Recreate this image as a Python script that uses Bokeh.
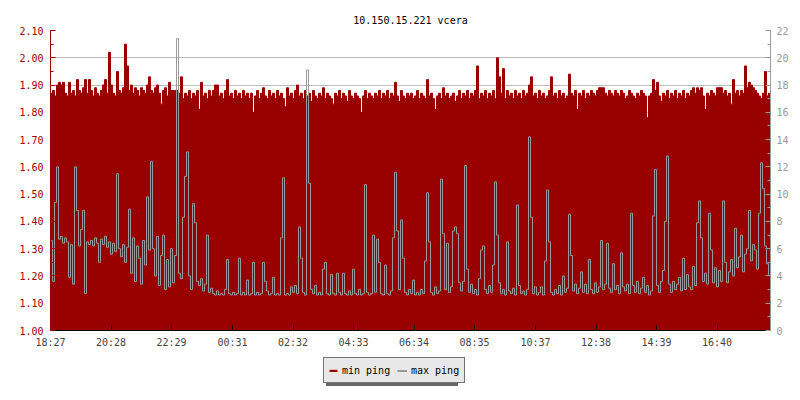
import numpy as np
from bokeh.plotting import figure
from bokeh.layouts import column
from bokeh.models import (Range1d, LinearAxis, SingleIntervalTicker, FixedTicker,
                          PrintfTickFormatter, Legend, LegendItem, ColumnDataSource)
from bokeh.embed import file_html
from bokeh.resources import INLINE

title_text = "10.150.15.221 vcera"
tick_minutes = [0, 121, 242, 364, 485, 606, 727, 848, 970, 1091, 1212, 1333]
tick_labels = ["18:27", "20:28", "22:29", "00:31", "02:32", "04:33",
               "06:34", "08:35", "10:37", "12:38", "14:39", "16:40"]
sample_minutes = 4
series_names = ["min ping", "max ping"]

# min ping (left axis, ms) - one value per 4-minute sample
min_ping = [
    1.87, 1.88, 1.86, 1.90, 1.91, 1.90, 1.91, 1.87, 1.86, 1.91, 1.87, 1.88, 1.86, 1.92, 1.88, 1.87, 1.89, 1.92, 1.87, 1.92,
    1.88, 1.86, 1.89, 1.87, 1.86, 1.88, 1.90, 1.92, 1.87, 2.02, 1.90, 1.87, 1.86, 1.95, 1.88, 1.87, 1.89, 2.05, 1.97, 1.88,
    1.90, 1.87, 1.89, 1.88, 1.86, 1.89, 1.88, 1.87, 1.90, 1.93, 1.88, 1.87, 1.89, 1.90, 1.87, 1.83, 1.88, 1.89, 1.86, 1.91,
    1.88, 1.88, 1.88, 1.88, 1.87, 1.93, 1.85, 1.87, 1.86, 1.88, 1.85, 1.87, 1.86, 1.88, 1.81, 1.91, 1.86, 1.87, 1.85, 1.88,
    1.86, 1.88, 1.90, 1.90, 1.86, 1.87, 1.85, 1.88, 1.92, 1.86, 1.87, 1.85, 1.88, 1.86, 1.87, 1.85, 1.88, 1.86, 1.87, 1.85,
    1.87, 1.80, 1.86, 1.88, 1.85, 1.87, 1.89, 1.86, 1.85, 1.88, 1.86, 1.87, 1.85, 1.88, 1.86, 1.87, 1.85, 1.82, 1.89, 1.86,
    1.87, 1.85, 1.88, 1.90, 1.86, 1.87, 1.85, 1.88, 1.86, 1.87, 1.84, 1.88, 1.86, 1.85, 1.87, 1.86, 1.89, 1.85, 1.87, 1.86,
    1.85, 1.83, 1.87, 1.86, 1.88, 1.85, 1.87, 1.86, 1.84, 1.88, 1.86, 1.85, 1.87, 1.86, 1.85, 1.80, 1.86, 1.88, 1.85, 1.87,
    1.86, 1.85, 1.87, 1.86, 1.88, 1.85, 1.87, 1.86, 1.88, 1.85, 1.87, 1.86, 1.91, 1.86, 1.84, 1.88, 1.86, 1.85, 1.87, 1.86,
    1.87, 1.85, 1.86, 1.88, 1.85, 1.87, 1.86, 1.85, 1.92, 1.86, 1.87, 1.85, 1.81, 1.86, 1.87, 1.85, 1.89, 1.86, 1.87, 1.85,
    1.86, 1.87, 1.84, 1.86, 1.88, 1.85, 1.87, 1.86, 1.88, 1.85, 1.87, 1.86, 1.88, 1.97, 1.85, 1.87, 1.86, 1.88, 1.85, 1.87,
    1.86, 1.88, 1.85, 2.00, 1.93, 1.87, 1.96, 1.85, 1.88, 1.86, 1.87, 1.85, 1.88, 1.86, 1.87, 1.85, 1.88, 1.86, 1.87, 1.90,
    1.93, 1.86, 1.87, 1.85, 1.88, 1.86, 1.87, 1.85, 1.86, 1.88, 1.93, 1.86, 1.87, 1.85, 1.88, 1.86, 1.87, 1.85, 1.86, 1.94,
    1.87, 1.86, 1.88, 1.81, 1.87, 1.86, 1.88, 1.85, 1.87, 1.86, 1.88, 1.87, 1.86, 1.88, 1.89, 1.89, 1.89, 1.87, 1.86, 1.88,
    1.87, 1.86, 1.88, 1.87, 1.86, 1.88, 1.87, 1.85, 1.86, 1.88, 1.87, 1.86, 1.85, 1.87, 1.86, 1.88, 1.87, 1.86, 1.78, 1.86,
    1.87, 1.92, 1.88, 1.91, 1.86, 1.84, 1.87, 1.86, 1.88, 1.85, 1.87, 1.86, 1.88, 1.85, 1.87, 1.86, 1.88, 1.85, 1.87, 1.86,
    1.88, 1.89, 1.87, 1.89, 1.88, 1.89, 1.86, 1.81, 1.87, 1.86, 1.88, 1.87, 1.86, 1.89, 1.89, 1.89, 1.87, 1.88, 1.86, 1.87,
    1.83, 1.92, 1.87, 1.88, 1.86, 1.88, 1.87, 1.97, 1.89, 1.91, 1.90, 1.89, 1.88, 1.87, 1.86, 1.85, 1.87, 1.95, 1.86, 1.87,
]

# max ping (right axis, ms)
max_ping = [
    6.6, 3.6, 9.4, 12.0, 6.7, 6.9, 6.4, 6.8, 6.5, 3.9, 6.3, 3.4, 12.0, 8.8, 6.2, 7.4, 8.8, 2.7, 6.5, 6.3,
    6.6, 6.2, 6.8, 6.4, 5.0, 6.7, 6.3, 6.9, 6.1, 6.5, 5.6, 6.4, 5.8, 11.5, 6.0, 5.4, 6.3, 5.0, 6.1, 8.9,
    4.2, 6.8, 3.6, 6.2, 5.3, 3.4, 6.6, 4.8, 9.8, 5.9, 12.4, 6.0, 4.0, 6.9, 3.3, 5.5, 7.0, 3.0, 5.2, 3.2,
    6.0, 3.5, 5.5, 21.4, 4.2, 3.8, 8.3, 11.3, 13.1, 4.0, 3.0, 9.3, 7.9, 3.6, 3.3, 3.8, 2.9, 3.4, 7.0, 2.8,
    3.1, 2.7, 2.6, 2.9, 2.6, 2.7, 2.6, 3.0, 5.2, 2.7, 2.6, 2.8, 2.6, 2.7, 5.3, 2.6, 2.8, 2.6, 3.7, 2.6,
    2.7, 5.0, 2.6, 2.8, 2.6, 2.7, 5.0, 3.6, 2.9, 2.6, 2.7, 3.9, 2.6, 2.7, 2.6, 6.8, 11.2, 2.6, 2.7, 2.6,
    3.2, 2.8, 3.3, 2.7, 7.6, 5.3, 2.8, 2.6, 19.1, 10.8, 3.0, 2.7, 3.3, 2.6, 2.8, 2.6, 4.5, 5.0, 2.7, 2.6,
    4.1, 2.7, 2.6, 4.2, 2.8, 2.6, 4.2, 2.7, 2.6, 2.9, 2.6, 4.5, 2.7, 2.6, 3.0, 2.6, 2.7, 10.7, 2.8, 2.6,
    2.7, 7.0, 2.8, 6.7, 5.0, 2.7, 2.6, 4.8, 2.7, 2.6, 2.9, 6.8, 11.6, 7.3, 3.0, 8.1, 5.3, 2.8, 2.6, 3.0,
    2.7, 3.7, 2.6, 2.8, 2.6, 3.0, 2.7, 5.1, 10.1, 6.5, 2.8, 2.6, 3.2, 2.7, 2.9, 11.1, 7.1, 3.0, 6.4, 2.8,
    3.2, 7.3, 7.6, 7.1, 3.5, 2.9, 3.6, 12.1, 4.5, 2.8, 3.4, 2.7, 3.0, 2.6, 3.8, 5.9, 6.2, 3.0, 2.7, 3.3,
    2.8, 4.8, 10.9, 7.0, 3.5, 2.7, 3.0, 2.6, 6.5, 2.9, 2.7, 3.1, 2.6, 9.2, 3.3, 2.7, 2.9, 2.6, 3.0, 14.2,
    8.3, 2.7, 3.2, 2.6, 2.8, 3.2, 2.6, 5.1, 10.3, 6.5, 2.8, 2.6, 3.0, 2.7, 3.3, 2.6, 4.0, 2.8, 3.1, 8.5,
    5.5, 2.9, 3.4, 2.7, 3.1, 4.3, 2.8, 3.4, 2.7, 5.2, 3.0, 2.7, 3.5, 2.8, 3.2, 6.6, 3.0, 3.4, 6.4, 3.1,
    2.8, 4.9, 3.0, 3.3, 2.7, 5.7, 3.2, 2.9, 3.4, 2.7, 8.6, 3.3, 2.8, 3.6, 2.7, 3.1, 3.9, 2.8, 3.3, 2.6,
    2.9, 8.4, 11.8, 3.3, 2.8, 3.6, 4.4, 8.0, 12.8, 3.4, 2.8, 3.6, 3.0, 3.4, 3.9, 2.9, 5.3, 3.0, 4.1, 3.2,
    3.0, 4.7, 3.3, 7.9, 9.5, 6.8, 3.6, 4.2, 3.4, 8.6, 5.9, 3.5, 4.6, 3.2, 4.4, 3.6, 9.5, 5.0, 3.5, 4.3,
    5.2, 4.0, 7.5, 4.6, 5.4, 7.0, 4.3, 5.6, 6.0, 8.8, 5.1, 6.3, 5.9, 4.5, 8.6, 12.3, 10.4, 6.2, 4.9, 4.0,
]

n = len(min_ping)
t = np.arange(n) * sample_minutes + sample_minutes / 2
src = ColumnDataSource(dict(t=t, mn=min_ping, mx=max_ping))

FONT = "DejaVu Sans Mono"
RED = "#990000"
GRAY = "#999999"

# ---------------- main chart ----------------
p = figure(frame_width=720, frame_height=300, x_range=Range1d(0, n * sample_minutes),
           y_range=Range1d(1.0, 2.1), output_backend="svg", toolbar_location=None,
           min_border_left=50, min_border_right=22, min_border_top=30,
           min_border_bottom=20, title=title_text)
p.extra_y_ranges = {"right": Range1d(0, 22)}
p.outline_line_color = None
p.background_fill_color = "white"
p.border_fill_color = "white"

p.title.text_font = FONT
p.title.text_font_size = "10px"
p.title.text_font_style = "normal"
p.title.align = "center"
p.title.text_color = "black"

p.vbar(x="t", width=sample_minutes, top="mn", bottom=1.0, source=src,
       fill_color=RED, line_color=RED, line_width=1)
p.step(x="t", y="mx", mode="center", y_range_name="right", source=src,
       line_color=GRAY, line_width=1)

# left axis
ya = p.yaxis[0]
ya.ticker = SingleIntervalTicker(interval=0.1, num_minor_ticks=2)
ya.formatter = PrintfTickFormatter(format="%.2f")
ya.axis_line_color = RED
ya.major_tick_line_color = RED
ya.minor_tick_line_color = RED
ya.major_label_text_color = RED
ya.major_tick_in = 5
ya.major_tick_out = 0
ya.minor_tick_in = 3
ya.minor_tick_out = 0
ya.major_label_standoff = 7
ya.major_label_text_font = FONT
ya.major_label_text_font_size = "10px"

# right axis
ra = LinearAxis(y_range_name="right",
                ticker=SingleIntervalTicker(interval=2, num_minor_ticks=2))
ra.axis_line_color = GRAY
ra.major_tick_line_color = GRAY
ra.minor_tick_line_color = GRAY
ra.major_label_text_color = GRAY
ra.major_tick_in = 5
ra.major_tick_out = 0
ra.minor_tick_in = 3
ra.minor_tick_out = 0
ra.major_label_standoff = 6
ra.major_label_text_font = FONT
ra.major_label_text_font_size = "10px"
p.add_layout(ra, "right")

# bottom axis
xa = p.xaxis[0]
xa.ticker = FixedTicker(ticks=tick_minutes, minor_ticks=[])
xa.major_label_overrides = {m: lab for m, lab in zip(tick_minutes, tick_labels)}
xa.axis_line_color = "black"
xa.major_tick_line_color = "black"
xa.major_tick_in = 5
xa.major_tick_out = 0
xa.major_label_standoff = 6
xa.major_label_text_font = FONT
xa.major_label_text_font_size = "10px"

p.xgrid.visible = False
p.ygrid.grid_line_color = "#bbbbbb"

# ---------------- legend strip below the chart ----------------
lg = figure(width=792, height=42, x_range=Range1d(-200, -100), y_range=Range1d(0, 1),
            output_backend="svg", toolbar_location=None, x_axis_type=None,
            y_axis_type=None, min_border_left=0, min_border_right=0,
            min_border_top=0, min_border_bottom=0)
lg.outline_line_color = None
lg.xgrid.visible = False
lg.ygrid.visible = False
lg.border_fill_color = "white"
lg.background_fill_color = "white"
# same series, outside the visible range: only used for the legend swatches
lg_bars = lg.vbar(x="t", width=sample_minutes, top="mn", bottom=1.0, source=src,
                  fill_color=RED, line_color=None)
lg_line = lg.step(x="t", y="mx", mode="center", source=src,
                  line_color=GRAY, line_width=2)

common = dict(orientation="horizontal", glyph_width=10, glyph_height=3,
              label_standoff=4, spacing=6, padding=4, label_height=16,
              label_width=49, margin=0, label_text_font=FONT,
              label_text_font_size="10px")
shadow = Legend(items=[LegendItem(label=" ", renderers=[lg_bars]),
                       LegendItem(label=" ", renderers=[lg_line])],
                location=(276, 6), background_fill_color="#666666",
                background_fill_alpha=1.0, border_line_color=None, **common)
legend = Legend(items=[LegendItem(label=series_names[0], renderers=[lg_bars]),
                       LegendItem(label=series_names[1], renderers=[lg_line])],
                location=(273, 9), background_fill_color="#e8e8e8",
                background_fill_alpha=1.0, border_line_color="black",
                border_line_width=1, label_text_color="black", **common)
lg.add_layout(shadow, "center")
lg.add_layout(legend, "center")

layout = column(p, lg, spacing=0)
open("out.html", "w").write(file_html(layout, INLINE))
